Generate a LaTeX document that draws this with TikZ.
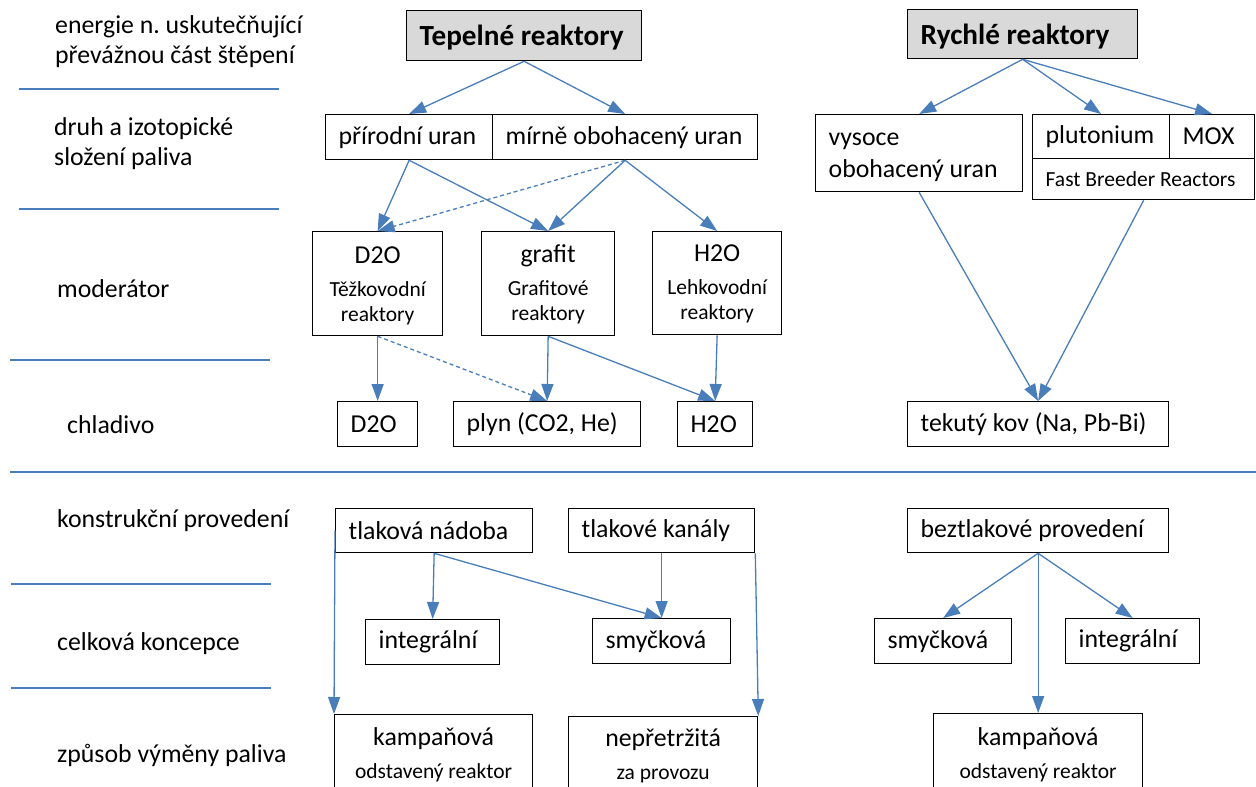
\documentclass[tikz,border=0pt]{standalone}
\usepackage{fontspec}
\setmainfont{Carlito}
\usepackage{tikz}
\usetikzlibrary{shapes,arrows.meta,positioning}
\definecolor{linkblue}{RGB}{74,126,187}
\definecolor{headgray}{RGB}{217,217,217}
\newcommand{\boxfont}{\fontsize{25.8}{30}\selectfont}
\newcommand{\notefont}{\fontsize{21.5}{25}\selectfont}
\newcommand{\headfont}{\fontsize{29.2}{33}\selectfont\bfseries}
\frenchspacing
\tikzstyle{box}=[draw=black, line width=1.3pt, anchor=north west, inner xsep=13pt, inner ysep=0pt, align=flush left, font=\boxfont]
\tikzstyle{head}=[box, fill=headgray, font=\headfont]
\tikzstyle{rowname}=[anchor=base west, inner sep=0pt, text width=300pt, align=flush left, font=\boxfont]
\tikzstyle{link}=[-{Triangle[length=17pt,width=12pt]}, draw=linkblue, line width=1.3pt]
\tikzstyle{weak}=[link, dash pattern=on 4pt off 3pt]
\tikzstyle{divider}=[draw=linkblue, line width=2.2pt]

\begin{document}
\begin{tikzpicture}[x=1pt,y=-1pt]
  \useasboundingbox (0,0) rectangle (1256,787);
  \clip (0,0) rectangle (1256,787);

  \foreach \name/\lbl/\x/\y in {en/{energie n. uskutečňující\\převážnou část štěpení}/55/33,
      fu/{druh a izotopické\\složení paliva}/54/135, mo/moderátor/57/297, co/chladivo/67/433,
      ko/konstrukční provedení/57/527, ce/celková koncepce/57/650, zp/způsob výměny paliva/57/762}
    \node[rowname] (R-\name) at (\x,\y) {\lbl};

  \foreach \x/\xx/\y in {19/279/89, 19/279/209, 10/270/360, 10/1256/472, 11/271/584, 11/271/688}
    \draw[divider] (\x,\y) -- (\xx,\y);

  \node[head, text width=209pt, text height=35pt, text depth=15pt] (H-th) at (406,10) {Tepelné reaktory};
  \node[head, text width=204pt, text height=35pt, text depth=14pt] (H-fa) at (907,9) {Rychlé reaktory};

  \foreach \name/\lbl/\x/\y/\w/\h in {pu/přírodní uran/325/114/167/45, mu/mírně obohacený uran/492/114/265/45,
      pl/plutonium/1032/114/137/44, mox/MOX/1169/114/85/44,
      cd/D2O/337/401/80/45, cg/{plyn (CO2, He)}/453/401/187/45, ch/H2O/677/401/75/45,
      ck/{tekutý kov (Na, Pb-Bi)}/907/401/261/45,
      tn/tlaková nádoba/335/508/197/44, tk/tlakové kanály/568/508/186/44, bp/beztlakové provedení/907/508/261/44,
      li/integrální/365/619/134/45, ls/smyčková/592/618/138/45, rs/smyčková/874/618/137/45, ri/integrální/1065/618/134/45}
  {
    \pgfmathsetmacro\tw{\w-26}
    \node[box, text width=\tw pt, minimum height=\h pt] (B-\name) at (\x,\y) {\mbox{\lbl}};
  }

  \node[box, font=\notefont, text width=196pt, minimum height=41pt] (B-fb) at (1032,158) {Fast Breeder Reactors};
  \node[box, text width=181pt, text height=31pt, text depth=46pt] (B-vy) at (815,114) {vysoce\\[2pt]obohacený uran};

  \foreach \name/\mainlbl/\sublbl/\x/\y/\w/\h/\d in {md/D2O/{Těžkovodní\\reaktory}/312/231/130/32/72,
      mg/grafit/{Grafitové\\reaktory}/481/231/133/31/73, mh/H2O/{Lehkovodní\\reaktory}/652/231/129/30/73,
      kl/kampaňová/{odstavený reaktor}/334/714/198/31/90, np/nepřetržitá/{za provozu}/568/716/189/30/90,
      kr/kampaňová/{odstavený reaktor}/933/713/209/32/90}
  {
    \pgfmathsetmacro\tw{\w-26}
    \node[box, align=flush center, font=\notefont, text width=\tw pt, text height=\h pt, text depth=\d pt] (B-\name) at (\x,\y)
      {{\boxfont\mainlbl}\\[7.5pt]\sublbl};
  }

  \draw[link] (H-th.south) -- (B-pu.north);
  \draw[link] (H-th.south) -- (B-mu.north);
  \draw[link] (H-fa.south) -- (B-vy.north);
  \draw[link] (H-fa.south) -- (B-pl.north);
  \draw[link] (H-fa.south) -- (B-mox.north);
  \draw[link] (B-pu.south) -- (B-md.north);
  \draw[link] (B-pu.south) -- (B-mg.north);
  \draw[weak] (B-mu.south) -- (B-md.north);
  \draw[link] (B-mu.south) -- (B-mg.north);
  \draw[link] (B-mu.south) -- (B-mh.north);
  \draw[link] (B-vy.south) -- (B-ck.north);
  \draw[link] (B-fb.south) -- (B-ck.north);
  \draw[link] (B-md.south) -- (B-cd.north);
  \draw[weak] (B-md.south) -- (B-cg.north);
  \draw[link] (B-mg.south) -- (B-cg.north);
  \draw[link] (B-mg.south) -- (B-ch.north);
  \draw[link] (B-mh.south) -- (B-ch.north);
  \draw[link] (B-tn.west) -- (B-kl.north west);
  \draw[link] (B-tn.south) -- (B-li.north);
  \draw[link] (B-tn.south) -- (B-ls.north);
  \draw[link] (B-tk.south) -- (B-ls.north);
  \draw[link] (B-tk.south east) -- (B-np.north east);
  \draw[link] (B-bp.south) -- (B-rs.north);
  \draw[link] (B-bp.south) -- (B-ri.north);
  \draw[link] (B-bp.south) -- (B-kr.north);
\end{tikzpicture}
\end{document}
